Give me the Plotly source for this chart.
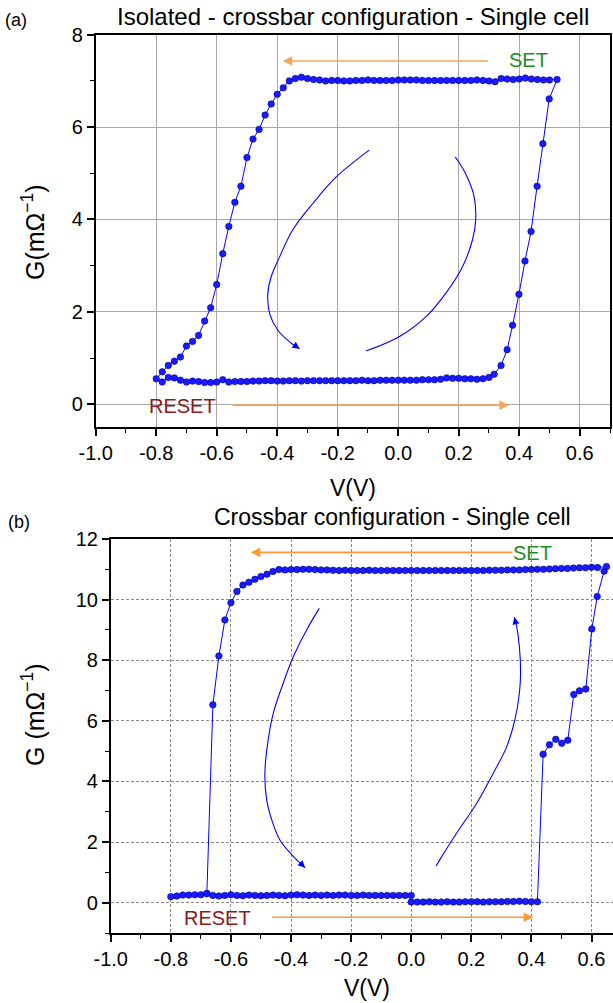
import plotly.graph_objects as go

# ---------------- data: panel (a) isolated crossbar ----------------
top_lower_v = [-0.78, -0.76, -0.74, -0.72, -0.70, -0.68, -0.66, -0.64, -0.62, -0.60, -0.58, -0.56, -0.54, -0.52,
               -0.50, -0.48, -0.46, -0.44, -0.42, -0.40, -0.38, -0.36, -0.34, -0.32, -0.30, -0.28, -0.26, -0.24,
               -0.22, -0.20, -0.18, -0.16, -0.14, -0.12, -0.10, -0.08, -0.06, -0.04, -0.02, 0.00, 0.02, 0.04,
               0.06, 0.08, 0.10, 0.12, 0.14, 0.16, 0.18, 0.20, 0.22, 0.24, 0.26, 0.28, 0.30]
top_lower_g = [0.48, 0.58, 0.57, 0.52, 0.48, 0.50, 0.49, 0.47, 0.47, 0.48, 0.53, 0.48, 0.49, 0.49,
               0.49, 0.50, 0.50, 0.51, 0.51, 0.50, 0.50, 0.51, 0.51, 0.50, 0.51, 0.51, 0.51, 0.51,
               0.51, 0.51, 0.51, 0.51, 0.51, 0.52, 0.51, 0.51, 0.52, 0.52, 0.52, 0.52, 0.52, 0.52,
               0.52, 0.53, 0.53, 0.53, 0.54, 0.57, 0.56, 0.56, 0.55, 0.55, 0.54, 0.55, 0.58]
top_rise_v = [0.317, 0.340, 0.360, 0.378, 0.399, 0.419, 0.439, 0.459, 0.478, 0.499, 0.525]
top_rise_g = [0.65, 0.84, 1.18, 1.71, 2.38, 3.10, 3.74, 4.72, 5.64, 6.61, 7.03]
top_upper_v = [0.50, 0.48, 0.46, 0.44, 0.42, 0.40, 0.38, 0.36, 0.34, 0.32, 0.30, 0.28, 0.26, 0.24, 0.22,
               0.20, 0.18, 0.16, 0.14, 0.12, 0.10, 0.08, 0.06, 0.04, 0.02, 0.00, -0.02, -0.04, -0.06,
               -0.08, -0.10, -0.12, -0.14, -0.16, -0.18, -0.20, -0.22, -0.24, -0.26, -0.28, -0.30, -0.32, -0.34]
top_upper_g = [7.02, 7.02, 7.03, 7.04, 7.06, 7.04, 7.03, 7.04, 7.05, 6.98, 7.00, 7.01, 7.02, 7.01, 7.01,
               7.01, 7.01, 7.01, 7.01, 7.01, 7.01, 7.01, 7.02, 7.02, 7.02, 7.02, 7.01, 7.01, 7.01,
               7.01, 7.02, 7.01, 7.01, 7.00, 7.00, 7.01, 7.01, 7.00, 7.02, 7.03, 7.05, 7.08, 7.05]
top_desc_v = [-0.36, -0.38, -0.40, -0.42, -0.44, -0.46, -0.48, -0.50, -0.52, -0.54, -0.56, -0.58,
              -0.60, -0.62, -0.64, -0.66, -0.68, -0.70, -0.72, -0.74, -0.76, -0.78, -0.80]
top_desc_g = [7.00, 6.85, 6.71, 6.50, 6.26, 5.95, 5.74, 5.34, 4.72, 4.37, 3.85, 3.26,
              2.59, 2.09, 1.80, 1.49, 1.36, 1.26, 1.02, 0.93, 0.84, 0.70, 0.55]

# ---------------- data: panel (b) crossbar ----------------
bot_lowl_v = [-0.80, -0.78, -0.76, -0.74, -0.72, -0.70, -0.68, -0.66, -0.64, -0.62, -0.60, -0.58, -0.56, -0.54,
              -0.52, -0.50, -0.48, -0.46, -0.44, -0.42, -0.40, -0.38, -0.36, -0.34, -0.32, -0.30, -0.28,
              -0.26, -0.24, -0.22, -0.20, -0.18, -0.16, -0.14, -0.12, -0.10, -0.08, -0.06, -0.04, -0.02, 0.00]
bot_lowl_g = [0.20, 0.22, 0.25, 0.25, 0.26, 0.26, 0.30, 0.24, 0.22, 0.24, 0.26, 0.24, 0.23, 0.25,
              0.24, 0.23, 0.24, 0.25, 0.24, 0.23, 0.25, 0.26, 0.25, 0.24, 0.25, 0.24, 0.25,
              0.24, 0.25, 0.25, 0.24, 0.24, 0.25, 0.24, 0.24, 0.24, 0.24, 0.24, 0.24, 0.24, 0.24]
bot_lowr_v = [0.00, 0.02, 0.04, 0.06, 0.08, 0.10, 0.12, 0.14, 0.16, 0.18, 0.20, 0.22, 0.24, 0.26, 0.28,
              0.30, 0.32, 0.34, 0.36, 0.38, 0.40, 0.42]
bot_lowr_g = [0.02, 0.02, 0.02, 0.03, 0.02, 0.02, 0.03, 0.02, 0.02, 0.03, 0.03, 0.03, 0.02, 0.03, 0.03,
              0.03, 0.04, 0.04, 0.05, 0.04, 0.03, 0.03]
bot_rise_v = [0.439, 0.460, 0.481, 0.501, 0.521, 0.541, 0.560, 0.581, 0.601, 0.619, 0.642, 0.650]
bot_rise_g = [4.90, 5.21, 5.39, 5.26, 5.36, 6.87, 6.99, 7.05, 9.03, 10.10, 10.94, 11.09]
bot_upper_v = [0.62, 0.60, 0.58, 0.56, 0.54, 0.52, 0.50, 0.48, 0.46, 0.44, 0.42, 0.40, 0.38, 0.36, 0.34,
               0.32, 0.30, 0.28, 0.26, 0.24, 0.22, 0.20, 0.18, 0.16, 0.14, 0.12, 0.10, 0.08, 0.06, 0.04,
               0.02, 0.00, -0.02, -0.04, -0.06, -0.08, -0.10, -0.12, -0.14, -0.16, -0.18, -0.20, -0.22,
               -0.24, -0.26, -0.28, -0.30, -0.32, -0.34, -0.36, -0.38, -0.40, -0.42, -0.44]
bot_upper_g = [11.06, 11.07, 11.05, 11.05, 11.04, 11.03, 11.03, 11.02, 11.01, 11.00, 11.00, 10.99, 10.99,
               10.98, 10.98, 10.98, 10.97, 10.97, 10.97, 10.96, 10.96, 10.96, 10.96, 10.96, 10.96, 10.96,
               10.96, 10.96, 10.96, 10.96, 10.96, 10.96, 10.96, 10.96, 10.96, 10.96, 10.96, 10.96, 10.97,
               10.96, 10.96, 10.96, 10.97, 10.96, 10.97, 10.98, 10.98, 10.99, 11.00, 11.00, 10.99, 10.99,
               10.98, 10.99]
bot_desc_v = [-0.46, -0.48, -0.50, -0.52, -0.54, -0.56, -0.58, -0.60, -0.62, -0.64, -0.66, -0.68]
bot_desc_g = [10.93, 10.84, 10.76, 10.67, 10.57, 10.48, 10.27, 9.90, 9.33, 8.14, 6.53, 0.30]

# curved guide arrows (path points, last = arrow tip)
top_arc1_v = [-0.096, -0.205, -0.283, -0.349, -0.392, -0.420, -0.431, -0.425, -0.398, -0.359, -0.326]
top_arc1_g = [5.50, 4.92, 4.34, 3.77, 3.19, 2.76, 2.40, 1.96, 1.60, 1.35, 1.20]
top_arc2_v = [-0.107, 0.003, 0.091, 0.157, 0.212, 0.245, 0.256, 0.251, 0.228, 0.201, 0.188]
top_arc2_g = [1.15, 1.46, 1.89, 2.40, 2.97, 3.55, 3.98, 4.49, 4.92, 5.24, 5.35]
bot_arc1_v = [-0.306, -0.348, -0.392, -0.426, -0.459, -0.476, -0.487, -0.481, -0.464, -0.437, -0.397, -0.353]
bot_arc1_g = [9.71, 9.00, 8.12, 7.24, 6.25, 5.37, 4.27, 3.39, 2.73, 2.07, 1.58, 1.15]
bot_arc2_v = [0.083, 0.096, 0.151, 0.218, 0.273, 0.318, 0.345, 0.360, 0.364, 0.360, 0.351, 0.343]
bot_arc2_g = [1.21, 1.43, 2.29, 3.28, 4.27, 5.15, 6.03, 6.91, 7.57, 8.45, 9.11, 9.42]

# SET / RESET arrows: (tail_v, tail_g, tip_v, tip_g)
top_set_arrow = [0.302, 7.43, -0.382, 7.43]
top_reset_arrow = [-0.552, -0.02, 0.366, -0.02]
bot_set_arrow = [0.342, 11.56, -0.534, 11.56]
bot_reset_arrow = [-0.468, -0.48, 0.406, -0.48]

x_tick_vals = [-1.0, -0.8, -0.6, -0.4, -0.2, 0.0, 0.2, 0.4, 0.6]
x_tick_text = ["-1.0", "-0.8", "-0.6", "-0.4", "-0.2", "0.0", "0.2", "0.4", "0.6"]
top_y_ticks = [0, 2, 4, 6, 8]
bot_y_ticks = [0, 2, 4, 6, 8, 10, 12]

# ---------------- layout helpers ----------------
W, H = 613, 1003
def px(x):
    return x / W
def py(y):
    return 1 - y / H

FONT = "Liberation Sans, Arial, sans-serif"
BLUE = "#0000ff"

fig = go.Figure()

marker = dict(size=6.5, color="#1a1aff", line=dict(color="#0000a0", width=0.6))
fig.add_trace(go.Scatter(
    x=top_lower_v + top_rise_v + top_upper_v + top_desc_v,
    y=top_lower_g + top_rise_g + top_upper_g + top_desc_g,
    mode="lines+markers", line=dict(color=BLUE, width=1), marker=marker,
    xaxis="x", yaxis="y", showlegend=False, hoverinfo="skip"))
fig.add_trace(go.Scatter(
    x=bot_lowl_v + bot_lowr_v + bot_rise_v + bot_upper_v + bot_desc_v,
    y=bot_lowl_g + bot_lowr_g + bot_rise_g + bot_upper_g + bot_desc_g,
    mode="lines+markers", line=dict(color=BLUE, width=1), marker=marker,
    xaxis="x2", yaxis="y2", showlegend=False, hoverinfo="skip"))

annotations = []
for (av, ag, xa, ya) in [(top_arc1_v, top_arc1_g, "x", "y"), (top_arc2_v, top_arc2_g, "x", "y"),
                         (bot_arc1_v, bot_arc1_g, "x2", "y2"), (bot_arc2_v, bot_arc2_g, "x2", "y2")]:
    fig.add_trace(go.Scatter(x=av, y=ag, mode="lines",
                             line=dict(color=BLUE, width=1.1, shape="spline", smoothing=1.0),
                             xaxis=xa, yaxis=ya, showlegend=False, hoverinfo="skip"))
    annotations.append(dict(x=av[-1], y=ag[-1], ax=av[-2] + (av[-1] - av[-2]) * 0.5,
                            ay=ag[-2] + (ag[-1] - ag[-2]) * 0.5,
                            xref=xa, yref=ya, axref=xa, ayref=ya, text="", showarrow=True,
                            arrowhead=2, arrowsize=1.3, arrowwidth=1.1, arrowcolor=BLUE, standoff=0))

for arr, xa, ya, col in [(top_set_arrow, "x", "y", "#f7a55a"), (top_reset_arrow, "x", "y", "#f7a55a"),
                         (bot_set_arrow, "x2", "y2", "#ff9933"), (bot_reset_arrow, "x2", "y2", "#ff9933")]:
    annotations.append(dict(x=arr[2], y=arr[3], ax=arr[0], ay=arr[1], xref=xa, yref=ya,
                            axref=xa, ayref=ya, text="", showarrow=True, arrowhead=2,
                            arrowsize=1.2, arrowwidth=1.6, arrowcolor=col, standoff=0))

GREEN = "#1f8c1f"
DRED = "#8b1a1a"

def txt(x, y, text, size, color="black", xref="paper", yref="paper", angle=0):
    return dict(x=x, y=y, xref=xref, yref=yref, text=text, showarrow=False, textangle=angle,
                xanchor="center", yanchor="middle", font=dict(family=FONT, size=size, color=color))

annotations += [
    txt(0.429, 7.45, "SET", 20, GREEN, "x", "y"),
    txt(-0.712, -0.04, "RESET", 20, DRED, "x", "y"),
    txt(0.405, 11.55, "SET", 20, GREEN, "x2", "y2"),
    txt(-0.644, -0.49, "RESET", 20, DRED, "x2", "y2"),
    txt(px(353), py(17), "Isolated - crossbar configuration - Single cell", 24),
    txt(px(392), py(517), "Crossbar configuration - Single cell", 23),
    txt(px(16), py(20), "(a)", 18),
    txt(px(19), py(522), "(b)", 18),
    txt(px(353), py(488), "V(V)", 23),
    txt(px(367), py(988), "V(V)", 23),
    txt(px(33), py(232), "G(mΩ<sup>−1</sup>)", 25, angle=-90),
    txt(px(33), py(715), "G (mΩ<sup>−1</sup>)", 25, angle=-90),
]

tickfont = dict(family=FONT, size=20, color="black")

def base_x(domain, rng, anchor, grid_dash, grid_col, mirror):
    return dict(domain=domain, range=rng, anchor=anchor, tickmode="array", tickvals=x_tick_vals,
                ticktext=x_tick_text, ticks="outside", ticklen=7, tickwidth=1.5, tickcolor="black",
                showline=True, linecolor="black", linewidth=1.5, mirror=mirror, automargin=False,
                showgrid=True, gridcolor=grid_col, gridwidth=1, griddash=grid_dash, zeroline=False,
                tickfont=tickfont,
                minor=dict(dtick=0.1, tick0=0, ticks="outside", ticklen=4, tickwidth=1.2,
                           tickcolor="black", showgrid=False))

def base_y(domain, rng, anchor, tv, grid_dash, grid_col, mirror):
    return dict(domain=domain, range=rng, anchor=anchor, tickmode="array", tickvals=tv,
                ticktext=[str(t) for t in tv], ticks="outside", ticklen=7, tickwidth=1.5,
                tickcolor="black", showline=True, linecolor="black", linewidth=1.5, mirror=mirror,
                automargin=False,
                showgrid=True, gridcolor=grid_col, gridwidth=1, griddash=grid_dash, zeroline=False,
                tickfont=tickfont,
                minor=dict(dtick=1, tick0=0, ticks="outside", ticklen=4, tickwidth=1.2,
                           tickcolor="black", showgrid=False))

def overlay_axis(over, anchor, side, rng, dt):
    return dict(overlaying=over, anchor=anchor, side=side, range=rng, dtick=dt, tick0=0,
                ticks="inside", ticklen=4, tickwidth=1.2, tickcolor="black", showticklabels=False,
                showgrid=False, zeroline=False, showline=False, automargin=False)

top_xdom = [px(95.7), px(610)]
top_ydom = [py(427.3), py(34.7)]
bot_xdom = [px(110.7), 1.0]
bot_ydom = [py(933), py(539)]
top_xr = [-1.0, 0.7]
top_yr = [-0.5, 8]
bot_xr = [-1.0, -1.0 + (613 - 110.7) / 300.5]
bot_yr = [-1.0, 12]

fig.update_layout(
    width=W, height=H, margin=dict(l=0, r=0, t=0, b=0, pad=0, autoexpand=False),
    paper_bgcolor="white", plot_bgcolor="white", showlegend=False,
    xaxis=base_x(top_xdom, top_xr, "y", "solid", "#a8a8a8", True),
    yaxis=base_y(top_ydom, top_yr, "x", top_y_ticks, "solid", "#a8a8a8", True),
    xaxis2=base_x(bot_xdom, bot_xr, "y2", "3px,2px", "#8a8a8a", True),
    yaxis2=base_y(bot_ydom, bot_yr, "x2", bot_y_ticks, "3px,2px", "#8a8a8a", False),
    xaxis3=overlay_axis("x", "y", "top", top_xr, 0.1),
    yaxis3=overlay_axis("y", "x", "right", top_yr, 1),
    xaxis4=overlay_axis("x2", "y2", "top", bot_xr, 0.1),
    annotations=annotations,
)

fig.write_html("out.html", config={"displayModeBar": False},
               post_script="document.body.style.margin='0';document.body.style.overflow='hidden';")
